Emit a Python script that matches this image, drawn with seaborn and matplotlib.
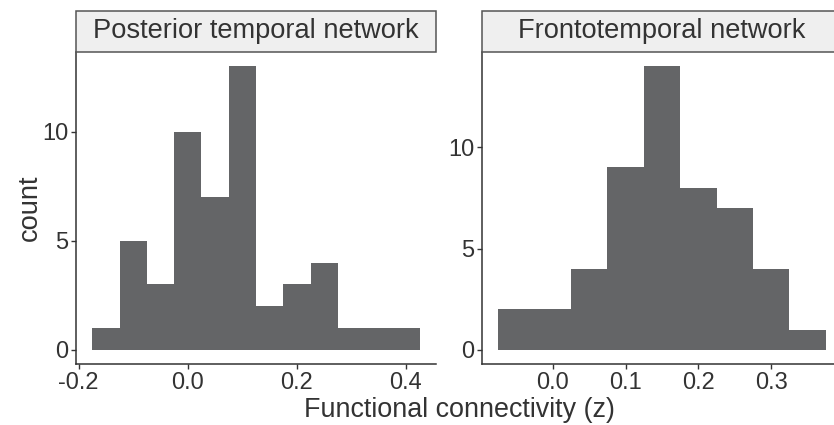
import numpy as np
import pandas as pd
import matplotlib
matplotlib.use("Agg")
import matplotlib.pyplot as plt
import seaborn as sns
from matplotlib.patches import Rectangle

# ---- data ----
panel_titles = ["Posterior temporal network", "Frontotemporal network"]

post_bin_edges = [-0.175, -0.125, -0.075, -0.025, 0.025, 0.075, 0.125,
                  0.175, 0.225, 0.275, 0.325, 0.375, 0.425]
post_counts = [1, 5, 3, 10, 7, 13, 2, 3, 4, 1, 1, 1]

front_bin_edges = [-0.075, -0.025, 0.025, 0.075, 0.125, 0.175, 0.225,
                   0.275, 0.325, 0.375]
front_counts = [2, 2, 4, 9, 14, 8, 7, 4, 1]

post_xticks = [-0.2, 0.0, 0.2, 0.4]
post_xticklabels = ["-0.2", "0.0", "0.2", "0.4"]
post_yticks = [0, 5, 10]
front_xticks = [0.0, 0.1, 0.2, 0.3]
front_xticklabels = ["0.0", "0.1", "0.2", "0.3"]
front_yticks = [0, 5, 10]

x_title = "Functional connectivity (z)"
y_title = "count"

# ---- style ----
sns.set_theme(style="white")
plt.rcParams['font.family'] = ['Liberation Sans', 'DejaVu Sans']

BAR = "#646567"
TXT = "#333333"
AX = "#333333"

W, H = 834, 425
fig = plt.figure(figsize=(W / 100, H / 100), dpi=100)

panel_top_px, panel_bot_px = 52, 364
ph = panel_bot_px - panel_top_px
pw = 360
lefts = [76, 482]

def make_df(edges, counts):
    edges = np.asarray(edges)
    centers = (edges[:-1] + edges[1:]) / 2
    return pd.DataFrame({"x": centers, "w": counts})

panels = [
    (post_bin_edges, post_counts, post_xticks, post_xticklabels, post_yticks),
    (front_bin_edges, front_counts, front_xticks, front_xticklabels, front_yticks),
]

axes = []
for i, (edges, counts, xt, xtl, yt) in enumerate(panels):
    ax = fig.add_axes([lefts[i] / W, (H - panel_bot_px) / H, pw / W, ph / H])
    df = make_df(edges, counts)
    sns.histplot(data=df, x="x", weights="w", bins=edges, ax=ax,
                 color=BAR, alpha=1, edgecolor="none", linewidth=0)
    rng = edges[-1] - edges[0]
    ax.set_xlim(edges[0] - 0.05 * rng, edges[-1] + 0.05 * rng)
    top = max(counts)
    ax.set_ylim(-0.05 * top, top * 1.05)
    ax.set_xticks(xt)
    ax.set_xticklabels(xtl)
    ax.set_yticks(yt)
    ax.set_xlabel("")
    ax.set_ylabel("")
    for s in ["top", "right"]:
        ax.spines[s].set_visible(False)
    for s in ["left", "bottom"]:
        ax.spines[s].set_color(AX)
        ax.spines[s].set_linewidth(1.1)
    ax.tick_params(axis="both", which="major", length=3.5, width=1.0,
                   color=AX, labelcolor=TXT, labelsize=17, pad=2,
                   bottom=True, left=True, direction="out")
    # strip
    sh = 41 / ph
    ax.add_patch(Rectangle((0, 1.0), 1, sh, transform=ax.transAxes,
                           facecolor="#EFEFEF", edgecolor="#555555",
                           linewidth=1.1, clip_on=False, zorder=5))
    ax.text(0.5, 1.0 + sh / 2, panel_titles[i], transform=ax.transAxes,
            ha="center", va="center", fontsize=19.6, color=TXT, zorder=6)
    axes.append(ax)

fig.text(459 / W, 1 - 410 / H, x_title, ha="center", va="center",
         fontsize=19.4, color=TXT)
fig.text(30 / W, 1 - 208 / H, y_title, ha="center", va="center",
         rotation=90, fontsize=19.6, color=TXT)

fig.savefig("out.png", dpi=100, facecolor="white")
